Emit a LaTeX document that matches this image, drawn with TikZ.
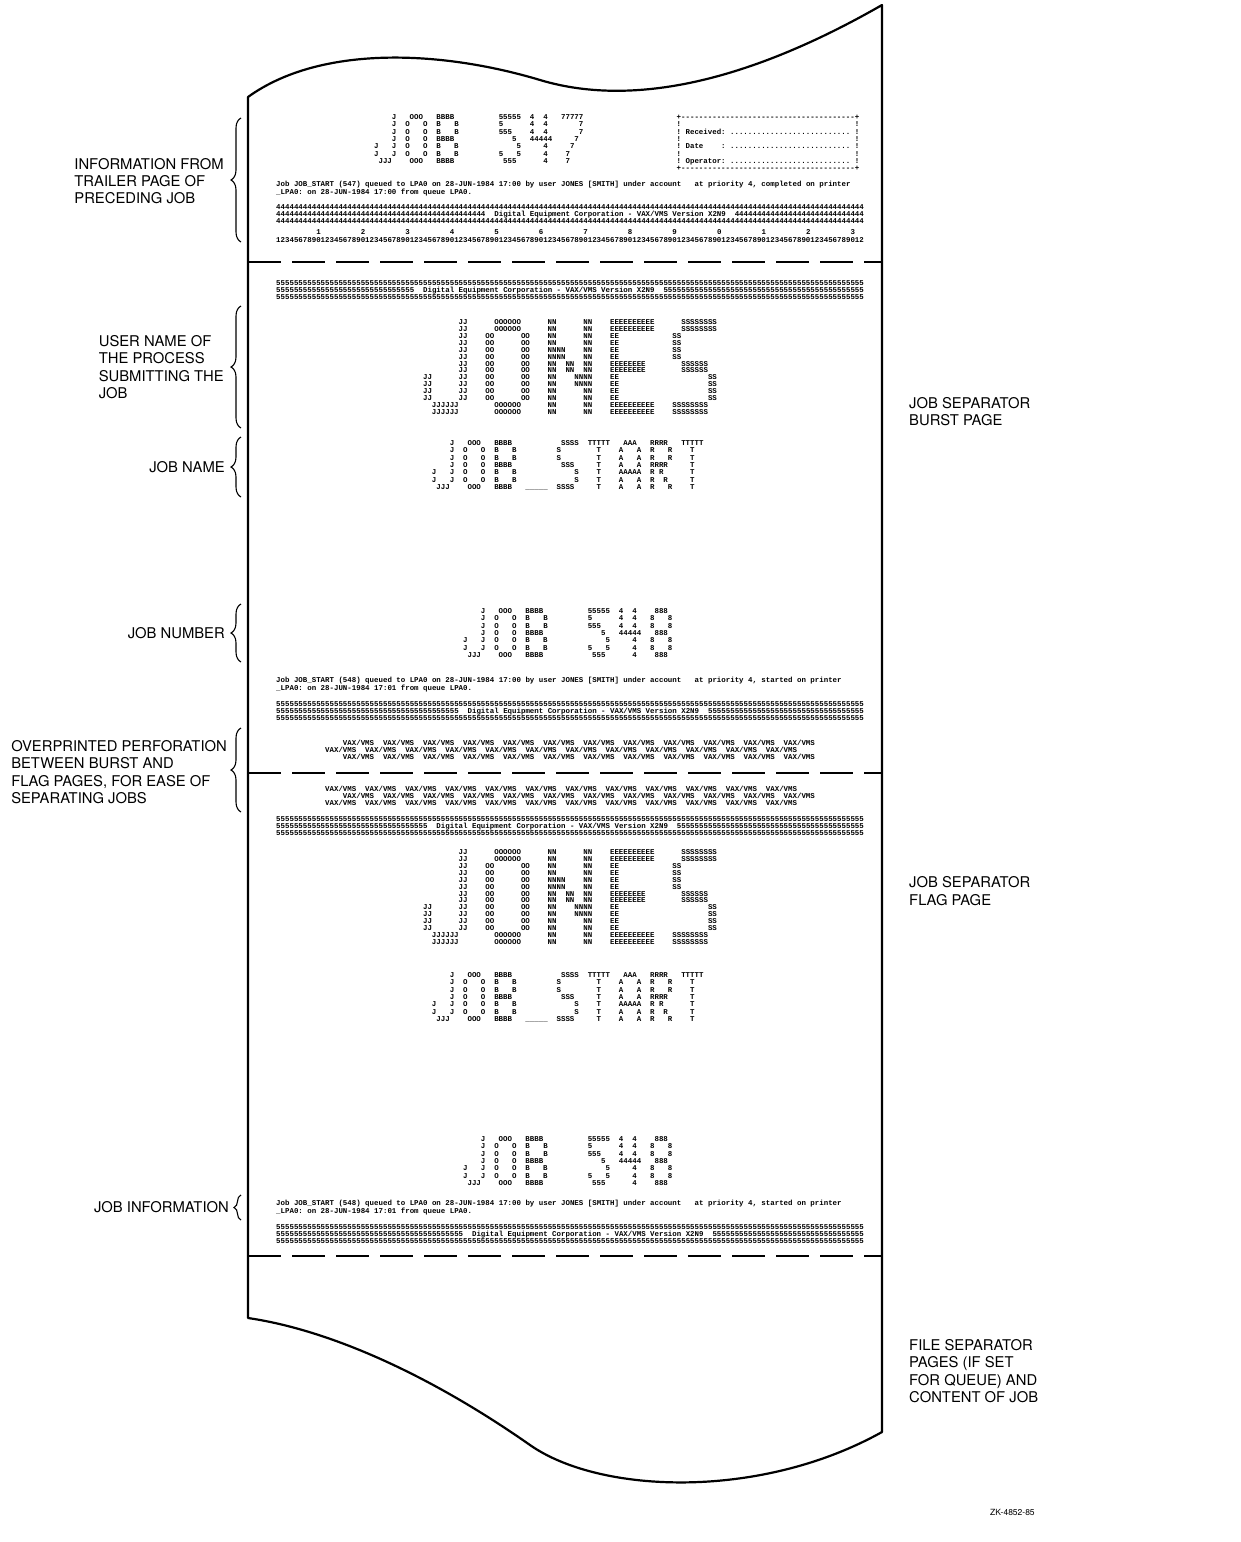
\documentclass[tikz,border=0pt]{standalone}
\usepackage{fontspec}
\setmainfont{TeX Gyre Heros}
\newfontfamily\prtfont{Liberation Mono}
\usetikzlibrary{decorations.pathreplacing}

% line printer helpers: | is a blank column, a comma is the gap between letters, = is an underscore
\newif\ifwide
\newcommand\pblank{\hphantom{0}}
\newcommand\pchar[1]{\ifx#1|\pblank\else\ifx#1,\pblank\pblank\else\ifx#1=\textunderscore\else#1\fi\fi\fi\kern0pt}
\def\prowi#1{\ifx#1\relax\else\pchar{#1}\ifwide\pchar{#1}\fi\expandafter\prowi\fi}
\newcommand\prow[1]{\prowi#1\relax}
\newcommand\prep[2]{\foreach\pn in {1,...,#1}{#2\kern0pt}}
\newcommand\decrow[3]{\prep{#2}{#1}\pblank\pblank Digital Equipment Corporation - VAX/VMS Version X2N9\pblank\pblank\prep{#3}{#1}}
\newcommand\vaxrow{\foreach\pn in {1,...,12}{VAX/VMS\pblank\pblank}}

% banner letters
\newcommand\rowsTrail{%
{||||J,|OOO|,BBBB|,|||||,55555,4||4|,77777},%
{||||J,O|||O,B|||B,|||||,5||||,4||4|,||||7},%
{||||J,O|||O,B|||B,|||||,555||,4||4|,||||7},%
{||||J,O|||O,BBBB|,|||||,|||5|,44444,|||7|},%
{J|||J,O|||O,B|||B,|||||,||||5,|||4|,||7||},%
{J|||J,O|||O,B|||B,|||||,5|||5,|||4|,|7|||},%
{|JJJ|,|OOO|,BBBB|,|||||,|555|,|||4|,|7|||}}
\newcommand\rowsNum{%
{||||J,|OOO|,BBBB|,|||||,55555,4||4|,|888|},%
{||||J,O|||O,B|||B,|||||,5||||,4||4|,8|||8},%
{||||J,O|||O,B|||B,|||||,555||,4||4|,8|||8},%
{||||J,O|||O,BBBB|,|||||,|||5|,44444,|888|},%
{J|||J,O|||O,B|||B,|||||,||||5,|||4|,8|||8},%
{J|||J,O|||O,B|||B,|||||,5|||5,|||4|,8|||8},%
{|JJJ|,|OOO|,BBBB|,|||||,|555|,|||4|,|888|}}
\newcommand\rowsName{%
{||||J,|OOO|,BBBB|,|||||,|SSSS,TTTTT,|AAA|,RRRR|,TTTTT},%
{||||J,O|||O,B|||B,|||||,S||||,||T||,A|||A,R|||R,||T||},%
{||||J,O|||O,B|||B,|||||,S||||,||T||,A|||A,R|||R,||T||},%
{||||J,O|||O,BBBB|,|||||,|SSS|,||T||,A|||A,RRRR|,||T||},%
{J|||J,O|||O,B|||B,|||||,||||S,||T||,AAAAA,R|R||,||T||},%
{J|||J,O|||O,B|||B,|||||,||||S,||T||,A|||A,R||R|,||T||},%
{|JJJ|,|OOO|,BBBB|,=====,SSSS|,||T||,A|||A,R|||R,||T||}}
\newcommand\rowsUser{%
{||||J,|OOO|,N|||N,EEEEE,|SSSS},%
{||||J,O|||O,N|||N,E||||,S||||},%
{||||J,O|||O,NN||N,E||||,S||||},%
{||||J,O|||O,N|N|N,EEEE|,|SSS|},%
{J|||J,O|||O,N||NN,E||||,||||S},%
{J|||J,O|||O,N|||N,E||||,||||S},%
{|JJJ|,|OOO|,N|||N,EEEEE,SSSS|}}

\tikzset{
  paper/.style={line width=2.2pt, line join=round},
  perf/.style={line width=1.6pt, dash pattern=on 33pt off 11pt},
  prt/.style={inner sep=0pt, anchor=mid west, font=\prtfont\bfseries\fontsize{7.42}{7.5}\selectfont\frenchspacing},
  lbl/.style={inner sep=0pt, align=left, font=\fontsize{14.8}{17.3}\selectfont},
  brc/.style={decorate, decoration={brace, amplitude=10pt}, line width=1.1pt},
}

\begin{document}
\begin{tikzpicture}[x=1pt,y=-1pt]
  \useasboundingbox (0,0) rectangle (1240,1542);

  % torn paper
  \coordinate (tl) at (248,97);
  \coordinate (bl) at (248,1318);
  \coordinate (br) at (882,1432);
  \coordinate (tr) at (882,5);
  \draw[paper] (tr) .. controls (760,75) and (640,110) .. (540,80)
    .. controls (440,50) and (320,45) .. (tl) -- (bl)
    .. controls (330,1330) and (430,1375) .. (530,1445)
    .. controls (600,1494) and (760,1500) .. (br) -- cycle;

  % perforations
  \foreach \y [count=\i] in {262,773,1256} {
    \coordinate (pl\i) at (248,\y); \coordinate (pr\i) at (882,\y);
    \draw[perf] (pl\i) -- (pr\i);
  }

  % the printout, one unit = one column
  \begin{scope}[shift={(276,0)}, x=4.45pt]
    % trailer of preceding job
    \foreach \rw [count=\i from 0] in \rowsTrail
      \node[prt] (tj\i) at (22,117+7.3*\i) {\expandafter\prow\expandafter{\rw}};
    \node[prt] (bx0) at (90,117) {\prow{+}\prep{39}{-}\prow{+}};
    \node[prt] (bx1) at (90,124.3) {!\prep{39}{\pblank}!};
    \node[prt] (bx2) at (90,131.6) {\prow{!|Received:|}\prep{27}{.}\prow{|!}};
    \node[prt] (bx3) at (90,138.9) {!\prep{39}{\pblank}!};
    \node[prt] (bx4) at (90,146.2) {\prow{!|Date||||:|}\prep{27}{.}\prow{|!}};
    \node[prt] (bx5) at (90,153.5) {!\prep{39}{\pblank}!};
    \node[prt] (bx6) at (90,160.8) {\prow{!|Operator:|}\prep{27}{.}\prow{|!}};
    \node[prt] (bx7) at (90,168.1) {\prow{+}\prep{39}{-}\prow{+}};
    \node[prt] (ti0) at (0,184) {Job JOB\_START (547) queued to LPA0 on 28-JUN-1984 17:00 by user JONES [SMITH] under account~~~at priority 4, completed on printer};
    \node[prt] (ti1) at (0,191.5) {\_LPA0: on 28-JUN-1984 17:00 from queue LPA0.};
    \node[prt] (tf0) at (0,207) {\prep{132}{4}};
    \node[prt] (tf1) at (0,214) {\decrow{4}{47}{29}};
    \node[prt] (tf2) at (0,221) {\prep{132}{4}};
    \node[prt] (rl0) at (0,232) {\foreach \d in {1,2,3,4,5,6,7,8,9,0,1,2,3}{\prep{9}{\pblank}\d}};
    \node[prt] (rl1) at (0,239.5) {\foreach \d in {1,...,13}{1234567890}12};

    % burst page
    \node[prt] (bs0) at (0,283) {\prep{132}{5}};
    \node[prt] (bs1) at (0,289.8) {\decrow{5}{31}{45}};
    \node[prt] (bs2) at (0,296.6) {\prep{132}{5}};
    \foreach \rw [count=\i from 0] in \rowsUser {
      \node[prt] (bu\i-a) at (33,322+13.8*\i) {\widetrue\expandafter\prow\expandafter{\rw}};
      \node[prt] (bu\i-b) at (33,328.9+13.8*\i) {\widetrue\expandafter\prow\expandafter{\rw}};
    }
    \foreach \rw [count=\i from 0] in \rowsName
      \node[prt] (bn\i) at (35,443+7.3*\i) {\expandafter\prow\expandafter{\rw}};
    \foreach \rw [count=\i from 0] in \rowsNum
      \node[prt] (bj\i) at (42,611+7.3*\i) {\expandafter\prow\expandafter{\rw}};
    \node[prt] (bi0) at (0,680) {Job JOB\_START (548) queued to LPA0 on 28-JUN-1984 17:00 by user JONES [SMITH] under account~~~at priority 4, started on printer};
    \node[prt] (bi1) at (0,687.5) {\_LPA0: on 28-JUN-1984 17:01 from queue LPA0.};
    \node[prt] (be0) at (0,704) {\prep{132}{5}};
    \node[prt] (be1) at (0,710.8) {\decrow{5}{41}{35}};
    \node[prt] (be2) at (0,717.6) {\prep{132}{5}};

    % overprinted perforation
    \node[prt] (va0) at (15,743) {\vaxrow};
    \node[prt] (va1) at (11,750) {\vaxrow};
    \node[prt] (va2) at (15,757) {\vaxrow};
    \node[prt] (vb0) at (11,789) {\vaxrow};
    \node[prt] (vb1) at (15,796) {\vaxrow};
    \node[prt] (vb2) at (11,803) {\vaxrow};

    % flag page
    \node[prt] (fs0) at (0,819) {\prep{132}{5}};
    \node[prt] (fs1) at (0,825.8) {\decrow{5}{34}{42}};
    \node[prt] (fs2) at (0,832.6) {\prep{132}{5}};
    \foreach \rw [count=\i from 0] in \rowsUser {
      \node[prt] (fu\i-a) at (33,852+13.8*\i) {\widetrue\expandafter\prow\expandafter{\rw}};
      \node[prt] (fu\i-b) at (33,858.9+13.8*\i) {\widetrue\expandafter\prow\expandafter{\rw}};
    }
    \foreach \rw [count=\i from 0] in \rowsName
      \node[prt] (fn\i) at (35,975+7.3*\i) {\expandafter\prow\expandafter{\rw}};
    \foreach \rw [count=\i from 0] in \rowsNum
      \node[prt] (fj\i) at (42,1139+7.3*\i) {\expandafter\prow\expandafter{\rw}};
    \node[prt] (fi0) at (0,1203) {Job JOB\_START (548) queued to LPA0 on 28-JUN-1984 17:00 by user JONES [SMITH] under account~~~at priority 4, started on printer};
    \node[prt] (fi1) at (0,1210.5) {\_LPA0: on 28-JUN-1984 17:01 from queue LPA0.};
    \node[prt] (fe0) at (0,1227) {\prep{132}{5}};
    \node[prt] (fe1) at (0,1233.8) {\decrow{5}{42}{34}};
    \node[prt] (fe2) at (0,1240.6) {\prep{132}{5}};
  \end{scope}

  % callouts on the left
  \node[lbl, anchor=east] (trailer) at (224,181) {INFORMATION FROM\\TRAILER PAGE OF\\PRECEDING JOB};
  \node[lbl, anchor=east] (user) at (224,367) {USER NAME OF\\THE PROCESS\\SUBMITTING THE\\JOB};
  \node[lbl, anchor=east] (jname) at (225,467) {JOB NAME};
  \node[lbl, anchor=east] (jnum) at (225,633) {JOB NUMBER};
  \node[lbl, anchor=east] (overp) at (227,772) {OVERPRINTED PERFORATION\\BETWEEN BURST AND\\FLAG PAGES, FOR EASE OF\\SEPARATING JOBS};
  \node[lbl, anchor=east] (jinfo) at (229,1207) {JOB INFORMATION};
  \foreach \ya/\yb/\n in {118/242/trl, 306/428/usr, 437/497/nam, 604/662/num, 728/812/ovp} {
    \coordinate (\n-t) at (241,\ya); \coordinate (\n-b) at (241,\yb);
    \draw[brc] (\n-b) -- (\n-t);
  }
  \coordinate (inf-t) at (241,1195); \coordinate (inf-b) at (241,1220);
  \draw[brc, decoration={brace, amplitude=7pt}] (inf-b) -- (inf-t);

  % callouts on the right
  \node[lbl, anchor=west] (burst) at (909,411.5) {JOB SEPARATOR\\BURST PAGE};
  \node[lbl, anchor=west] (flag) at (909,891) {JOB SEPARATOR\\FLAG PAGE};
  \node[lbl, anchor=west] (fsep) at (909,1371) {FILE SEPARATOR\\PAGES (IF SET\\FOR QUEUE) AND\\CONTENT OF JOB};
  \node[inner sep=0pt, anchor=west, font=\fontsize{8.5}{9}\selectfont] (zk) at (990,1512) {ZK-4852-85};
\end{tikzpicture}
\end{document}
